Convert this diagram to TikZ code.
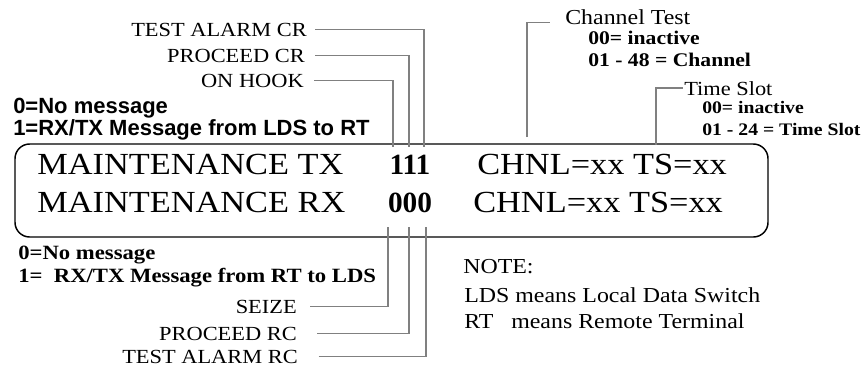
\documentclass[tikz,border=0pt]{standalone}
\usepackage{fontspec}
\setmainfont{Liberation Serif}[FakeStretch=1.12]
\newfontfamily\digitserif{Liberation Serif}
\newfontfamily\arialsans{Liberation Sans}
\usetikzlibrary{positioning}

\begin{document}
\begin{tikzpicture}[x=0.75pt, y=-0.75pt,
    lbl/.style={inner sep=0pt, anchor=base east, font=\fontsize{15}{18}\selectfont},
    txt/.style={inner sep=0pt, anchor=base west},
    big/.style={txt, font=\fontsize{23}{27}\selectfont},
    lead/.style={draw=gray, line width=1.1pt}]
    \useasboundingbox (0,0) rectangle (867,368);

    % display panel
    \node[draw, line width=1.1pt, rounded corners=11pt, inner sep=0pt,
          minimum width=564.75pt, minimum height=69.75pt] (panel) at (391.5,190.5) {};
    \node[big] (txrow) at (37,174) {MAINTENANCE TX};
    \node[big] (rxrow) at (37,212) {MAINTENANCE RX};
    \node[inner sep=0pt, anchor=base, font=\digitserif\bfseries\fontsize{22}{26}\selectfont] (txbits) at (410,174) {111};
    \node[inner sep=0pt, anchor=base, font=\digitserif\bfseries\fontsize{22}{26}\selectfont] (rxbits) at (410,212) {000};
    \node[big] (txchnl) at (477,174) {CHNL=xx TS=xx};
    \node[big] (rxchnl) at (473,212) {CHNL=xx TS=xx};

    % TX bit labels
    \node[lbl] (alarmcr) at (307,36) {TEST ALARM CR};
    \node[lbl] (proceedcr) at (305,62) {PROCEED CR};
    \node[lbl] (onhook) at (304,87) {ON HOOK};
    \coordinate (txA) at (393,147);
    \coordinate (txB) at (409,147);
    \coordinate (txC) at (424,147);
    \draw[lead] ([xshift=7.5pt]onhook.east) -| (txA);
    \draw[lead] ([xshift=7.5pt]proceedcr.east) -| (txB);
    \draw[lead] ([xshift=6pt]alarmcr.east) -| (txC);

    \node[txt, font=\arialsans\bfseries\fontsize{16.5}{19}\selectfont] (txzero) at (13,113) {0=No message};
    \node[txt, font=\arialsans\bfseries\fontsize{16.5}{19}\selectfont] (txone) at (13,135) {1=RX/TX Message from LDS to RT};

    % RX bit labels
    \node[lbl] (seize) at (297,313) {SEIZE};
    \node[lbl] (proceedrc) at (297,340) {PROCEED RC};
    \node[lbl] (alarmrc) at (298,363) {TEST ALARM RC};
    \coordinate (rxA) at (388,227);
    \coordinate (rxB) at (409,227);
    \coordinate (rxC) at (426,227);
    \draw[lead] ([xshift=10pt]seize.east) -| (rxA);
    \draw[lead] ([xshift=15pt]proceedrc.east) -| (rxB);
    \draw[lead] ([xshift=15.5pt]alarmrc.east) -| (rxC);

    \node[txt, font=\bfseries\fontsize{15.2}{18}\selectfont] (rxzero) at (18,259) {0=No message};
    \node[txt, font=\bfseries\fontsize{15.2}{18}\selectfont] (rxone) at (18,282) {1=~ RX/TX Message from RT to LDS};

    % channel and time slot
    \node[txt, font=\fontsize{16}{19}\selectfont] (chtest) at (565,24) {Channel Test};
    \node[txt, font=\bfseries\fontsize{14.5}{17}\selectfont] (choff) at (588,44) {00= inactive};
    \node[txt, font=\bfseries\fontsize{14.5}{17}\selectfont] (chrange) at (588,66) {01 - 48 = Channel};
    \coordinate (chbit) at (527,137);
    \draw[lead] (chbit) |- ([xshift=-11pt,yshift=1pt]chtest.base west);

    \node[txt, font=\fontsize{15}{18}\selectfont] (tslot) at (684,95) {Time Slot};
    \node[txt, font=\bfseries\fontsize{13.2}{16}\selectfont] (tsoff) at (702,113) {00= inactive};
    \node[txt, font=\bfseries\fontsize{13.2}{16}\selectfont] (tsrange) at (702,135) {01 - 24 = Time Slot};
    \coordinate (tsbit) at (656,145);
    \draw[lead] (tsbit) |- ([xshift=-0.75pt]tslot.west);

    % note
    \node[txt, font=\fontsize{16}{19}\selectfont] (note) at (463,273) {NOTE:};
    \node[txt, font=\fontsize{16}{19}\selectfont] (ldsnote) at (464,302) {LDS means Local Data Switch};
    \node[txt, font=\fontsize{16}{19}\selectfont] (rtnote) at (464,328) {RT\ \ \ means Remote Terminal};
\end{tikzpicture}
\end{document}
